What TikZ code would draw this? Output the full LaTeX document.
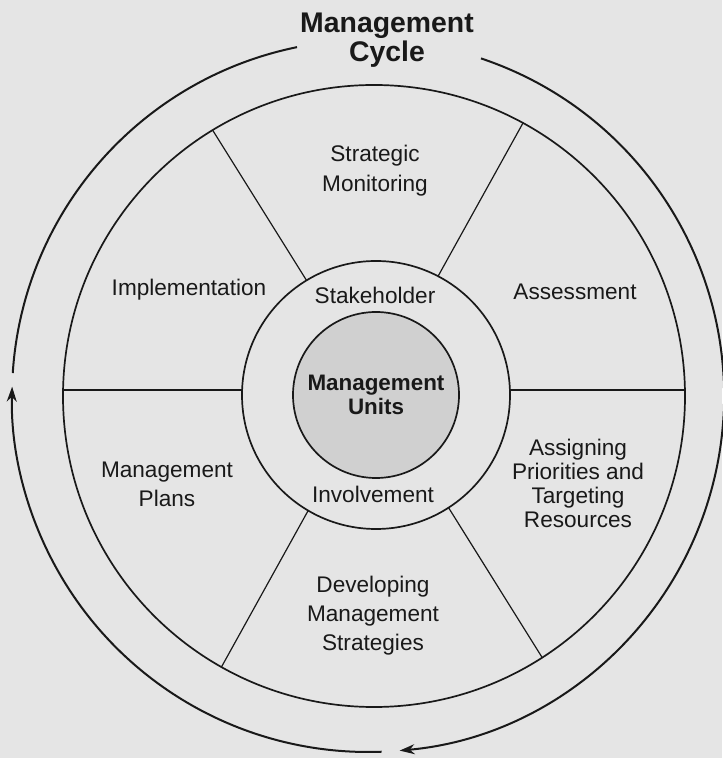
\documentclass[tikz,border=0pt]{standalone}
\usepackage{fontspec}
\setmainfont{Liberation Sans}
\usetikzlibrary{arrows.meta}
\definecolor{paper}{RGB}{229,229,229}
\definecolor{unitsgray}{RGB}{208,208,208}
\definecolor{ink}{RGB}{25,25,25}
\tikzset{%
	ring/.style={
		circle,
		draw=ink,
		line width=0.85pt,
		inner sep=0pt
	},
	spoke/.style={ draw=ink, line width=0.6pt },
	phase/.style={
		align=center,
		text=ink,
		font=\fontsize{11.3}{15}\selectfont
	},
	cycle-line/.style={ draw=ink, line width=1pt },
	cycle-arrow/.style={ cycle-line, -{Stealth[length=7.5pt, width=5pt]} },
}

\begin{document}
\begin{tikzpicture}[x=0.5pt, y=0.5pt]
% page
\fill[paper] (-374,-362) rectangle (348,396);
\useasboundingbox (-374,-362) rectangle (348,396);

% rings
\node[ring, minimum size=311pt] (cycle) at (0,0) {};
\node[ring, minimum size=134pt] (involvement) at (2,1) {};
\node[ring, fill=unitsgray, minimum size=83pt, align=center, text=ink,
	font=\fontsize{11.2}{12}\selectfont\bfseries] (units) at (2,1) {Management\\Units};

% spokes between the two rings
\begin{scope}[even odd rule]
	\clip (0,0) circle[radius=311] (2,1) circle[radius=134];
	\foreach \a in {0,61,122,180,241,302}
		\draw[spoke] (1,6) -- ++(\a:340);
\end{scope}

% phase labels
\node[phase] (monitoring) at (1,225) {Strategic\\Monitoring};
\node[phase] (assessment) at (201,104) {Assessment};
\node[phase, font=\fontsize{11.3}{12}\selectfont] (priorities) at (204,-87) {Assigning\\Priorities and\\Targeting\\Resources};
\node[phase, font=\fontsize{11.3}{14.5}\selectfont] (strategies) at (-1,-220) {Developing\\Management\\Strategies};
\node[phase, font=\fontsize{11.3}{14.5}\selectfont] (plans) at (-207,-88) {Management\\Plans};
\node[phase] (implementation) at (-185,106) {Implementation};
\node[phase] (stakeholder) at (1,101) {Stakeholder};
\node[phase] (involve) at (-1,-98) {Involvement};

% outer cycle
\node[align=center, text=ink, font=\fontsize{14.2}{14.5}\selectfont\bfseries] (title) at (13,356) {Management\\Cycle};
\draw[cycle-arrow] ([shift={(-6,0)}]71.5:356) arc[start angle=71.5, end angle=-84.9, radius=356];
\draw[cycle-arrow] ([shift={(-6,0)}]-87.8:356) arc[start angle=-87.8, end angle=-181.5, radius=356];
\draw[cycle-line] ([shift={(-6,0)}]176.3:356) arc[start angle=176.3, end angle=101.5, radius=356];

\end{tikzpicture}
\end{document}
